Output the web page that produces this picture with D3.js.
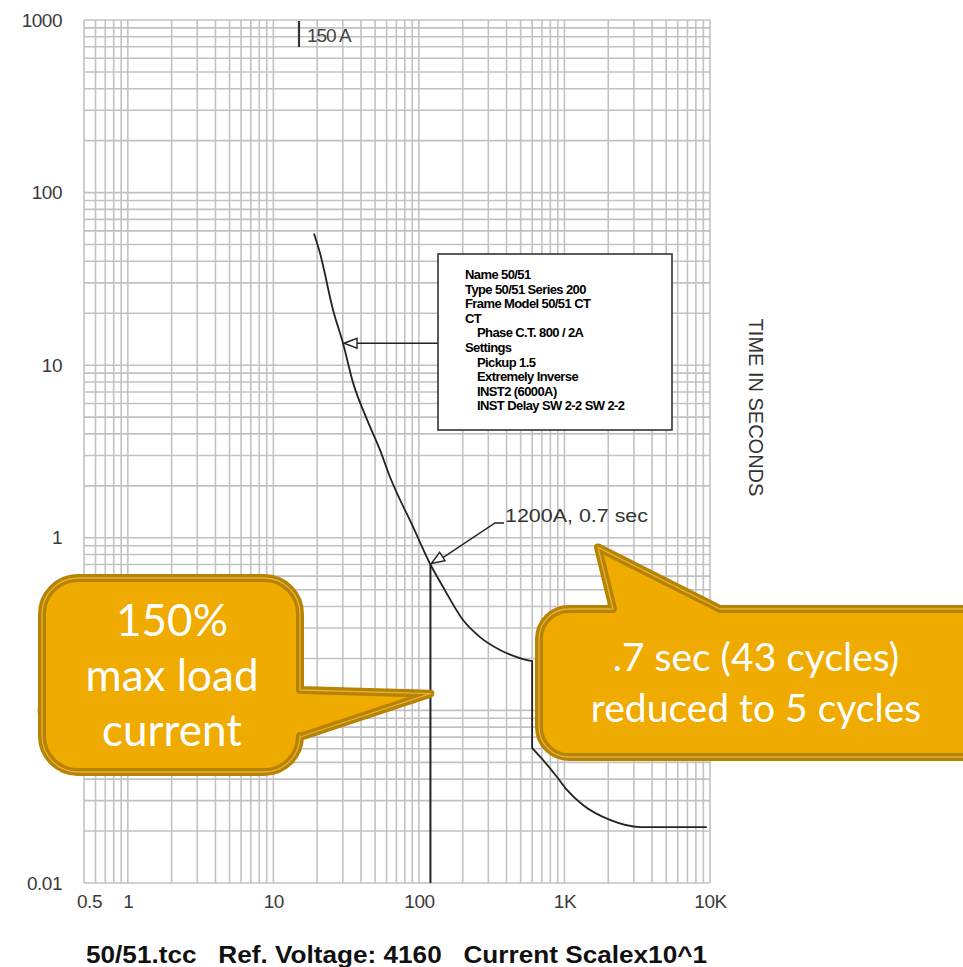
<!DOCTYPE html>
<html>
<head>
<meta charset="utf-8">
<script src="https://cdn.jsdelivr.net/npm/d3@7"></script>
<style>
  html, body { margin: 0; padding: 0; background: #fff; }
  svg { display: block; }
</style>
</head>
<body>
<svg id="chart" width="963" height="967"></svg>
<script>
// Time-current curve of the 50/51 relay (current axis scaled x10)
const currentA = [19, 20.9, 25.7, 30.1, 35.3, 43.3, 54, 63.3, 91, 120, 146.5, 201, 263, 361, 495, 600, 600, 713, 889, 1040, 1340, 2055, 3300, 9500];
const timeSec  = [58, 44.7, 20.9, 13.4, 7.9, 5.0, 3.23, 2.25, 1.16, 0.7, 0.519, 0.334, 0.266, 0.224, 0.201, 0.193, 0.0605, 0.0516, 0.0411, 0.0346, 0.0283, 0.0232, 0.0211, 0.0211];

// Load current marker and labelled operating point
const loadCurrent = 120;
const loadTimeTop = 0.7;
const markerCurrent = 15;
const markerLabel = "150 A";
const pointLabel = "1200A, 0.7 sec";
const legendPointCurrent = 30.1;
const legendPointTime = 13.4;

// Axis ticks
const xTickValues = [0.5, 1, 10, 100, 1000, 10000];
const xTickLabels = ["0.5", "1", "10", "100", "1K", "10K"];
const yTickValues = [0.01, 0.1, 1, 10, 100, 1000];
const yTickLabels = ["0.01", "0.1", "1", "10", "100", "1000"];

// Device description lines (indent level, text)
const legendLines = [
  [0, "Name 50/51"],
  [0, "Type 50/51 Series 200"],
  [0, "Frame Model 50/51 CT"],
  [0, "CT"],
  [1, "Phase C.T. 800 / 2A"],
  [0, "Settings"],
  [1, "Pickup 1.5"],
  [1, "Extremely Inverse"],
  [1, "INST2 (6000A)"],
  [1, "INST Delay SW 2-2 SW 2-2"]
];

const leftCalloutLines = ["150%", "max load", "current"];
const rightCalloutLines = [".7 sec (43 cycles)", "reduced to 5 cycles"];
const leftCalloutTip = [120, 0.125];
const rightCalloutTip = [1700, 0.88];

const svg = d3.select("#chart");
const x = d3.scaleLog().domain([0.5, 10000]).range([84, 710]);
const y = d3.scaleLog().domain([0.01, 1000]).range([883, 20]);

// Log grid: 1..9 per decade
function logGrid(lo, hi) {
  const vals = [];
  for (let e = -3; e <= 4; e++) {
    for (let k = 1; k <= 9; k++) {
      const v = k * Math.pow(10, e);
      if (v >= lo * 0.9999 && v <= hi * 1.0001) vals.push(v);
    }
  }
  return vals;
}
const grid = svg.append("g").attr("stroke", "#c2c2c2").attr("stroke-width", 1.6);
grid.selectAll("line.v").data(logGrid(0.5, 10000)).join("line")
  .attr("class", "v")
  .attr("x1", d => x(d)).attr("x2", d => x(d))
  .attr("y1", y(1000)).attr("y2", y(0.01));
grid.selectAll("line.h").data(logGrid(0.01, 1000)).join("line")
  .attr("class", "h")
  .attr("y1", d => y(d)).attr("y2", d => y(d))
  .attr("x1", x(0.5)).attr("x2", x(10000));

// Axes
const fontAxis = "'Liberation Sans', Arial, sans-serif";
const yAxis = svg.append("g").attr("transform", `translate(${x(0.5)},0)`)
  .call(d3.axisLeft(y).tickValues(yTickValues)
    .tickFormat((d, i) => yTickLabels[i]).tickSize(0).tickPadding(22));
const xAxis = svg.append("g").attr("transform", `translate(0,${y(0.01)})`)
  .call(d3.axisBottom(x).tickValues(xTickValues)
    .tickFormat((d, i) => xTickLabels[i]).tickSize(0).tickPadding(12));
[yAxis, xAxis].forEach(a => {
  a.select(".domain").remove();
  a.selectAll("text").attr("font-family", fontAxis).attr("font-size", 19)
    .attr("fill", "#3a3a3a").attr("letter-spacing", -0.5);
});
xAxis.selectAll("text").attr("dx", (d, i) => i === 0 ? 5 : 0);

// Axis title (right side)
svg.append("text")
  .attr("transform", `translate(749,${(y(10) + y(1)) / 2 - 44}) rotate(90)`)
  .attr("text-anchor", "middle")
  .attr("font-family", fontAxis).attr("font-size", 20)
  .attr("fill", "#333")
  .text("TIME IN SECONDS");

// Footer
svg.append("text")
  .attr("x", 86).attr("y", 963)
  .attr("font-family", fontAxis).attr("font-size", 23).attr("font-weight", "bold")
  .attr("fill", "#111")
  .style("white-space", "pre")
  .attr("textLength", 621).attr("lengthAdjust", "spacingAndGlyphs")
  .text("50/51.tcc   Ref. Voltage: 4160   Current Scalex10^1");

// 150 A marker at top
svg.append("line")
  .attr("x1", x(markerCurrent)).attr("x2", x(markerCurrent))
  .attr("y1", y(1000) + 1).attr("y2", y(1000) + 27)
  .attr("stroke", "#333").attr("stroke-width", 2.2);
svg.append("text")
  .attr("x", x(markerCurrent) + 8).attr("y", 42)
  .attr("font-family", fontAxis).attr("font-size", 19).attr("fill", "#444")
  .attr("letter-spacing", -1)
  .text(markerLabel);

// Load current vertical line
svg.append("line")
  .attr("x1", x(loadCurrent)).attr("x2", x(loadCurrent))
  .attr("y1", y(loadTimeTop)).attr("y2", y(0.01))
  .attr("stroke", "#222").attr("stroke-width", 2);

// Relay curve: smooth runs, split where the instantaneous element drops vertically
const pts = currentA.map((c, i) => [x(c), y(timeSec[i])]);
const runs = [[pts[0]]];
for (let i = 1; i < pts.length; i++) {
  if (Math.abs(pts[i][0] - pts[i - 1][0]) < 0.01) runs.push([pts[i]]);
  else runs[runs.length - 1].push(pts[i]);
}
const smooth = d3.line().curve(d3.curveMonotoneX);
let curveD = "";
runs.forEach((r, i) => {
  const seg = smooth(r);
  curveD += i === 0 ? seg : "L" + seg.slice(1);
});
svg.append("path")
  .attr("d", curveD)
  .attr("fill", "none").attr("stroke", "#222").attr("stroke-width", 1.8)
  .attr("stroke-linejoin", "round");

// Small open arrowhead drawn at a point, pointing along angle (radians)
function arrowHead(px, py, ang) {
  const len = 13, half = 5;
  const ca = Math.cos(ang), sa = Math.sin(ang);
  const bx = px - ca * len, by = py - sa * len;
  const p1 = [bx - sa * half, by + ca * half];
  const p2 = [bx + sa * half, by - ca * half];
  svg.append("path")
    .attr("d", `M${px},${py}L${p1[0]},${p1[1]}L${p2[0]},${p2[1]}Z`)
    .attr("fill", "#fff").attr("stroke", "#222").attr("stroke-width", 1.4);
}

// Legend box and its leader
const lgX = 438, lgY = 254, lgW = 234, lgH = 176;
const lp = [x(legendPointCurrent), y(legendPointTime)];
svg.append("line")
  .attr("x1", lp[0] + 10).attr("x2", lgX).attr("y1", lp[1]).attr("y2", lp[1])
  .attr("stroke", "#222").attr("stroke-width", 1.6);
arrowHead(lp[0] + 1, lp[1], Math.PI);
svg.append("rect")
  .attr("x", lgX).attr("y", lgY).attr("width", lgW).attr("height", lgH)
  .attr("fill", "#fff").attr("stroke", "#333").attr("stroke-width", 1.6);
svg.append("g").selectAll("text").data(legendLines).join("text")
  .attr("x", d => lgX + 27 + d[0] * 12)
  .attr("y", (d, i) => lgY + 25 + i * 14.6)
  .attr("font-family", fontAxis).attr("font-size", 13).attr("font-weight", "bold")
  .attr("fill", "#000").attr("letter-spacing", -0.6)
  .text(d => d[1]);

// Operating point label with leader
const op = [x(loadCurrent), y(loadTimeTop)];
const elbow = [495, 523];
svg.append("path")
  .attr("d", `M${op[0] + 8},${op[1] - 4}L${elbow[0]},${elbow[1]}H${elbow[0] + 9}`)
  .attr("fill", "none").attr("stroke", "#222").attr("stroke-width", 1.5);
arrowHead(op[0] + 1, op[1] - 1, Math.atan2(op[1] - elbow[1], op[0] - elbow[0]));
svg.append("text")
  .attr("x", 505).attr("y", 522)
  .attr("font-family", fontAxis).attr("font-size", 19).attr("fill", "#333")
  .attr("textLength", 143).attr("lengthAdjust", "spacingAndGlyphs")
  .text(pointLabel);

// Callout shapes
function leftCalloutPath(x0, y0, x1, y1, r, tip, a0, a1) {
  return `M${x0 + r},${y0}H${x1 - r}A${r},${r} 0 0 1 ${x1},${y0 + r}` +
    `V${a0}L${tip[0]},${tip[1]}L${x1},${a1}` +
    `V${y1 - r}A${r},${r} 0 0 1 ${x1 - r},${y1}H${x0 + r}` +
    `A${r},${r} 0 0 1 ${x0},${y1 - r}V${y0 + r}A${r},${r} 0 0 1 ${x0 + r},${y0}Z`;
}
function topCalloutPath(x0, y0, x1, y1, r, tip, b0, b1) {
  return `M${x0 + r},${y0}H${b0}L${tip[0]},${tip[1]}L${b1},${y0}` +
    `H${x1 - r}A${r},${r} 0 0 1 ${x1},${y0 + r}` +
    `V${y1 - r}A${r},${r} 0 0 1 ${x1 - r},${y1}H${x0 + r}` +
    `A${r},${r} 0 0 1 ${x0},${y1 - r}V${y0 + r}A${r},${r} 0 0 1 ${x0 + r},${y0}Z`;
}
function drawCallout(d) {
  const g = svg.append("g");
  g.append("path").attr("d", d).attr("fill", "#efab00")
    .attr("stroke", "#b78300").attr("stroke-width", 8).attr("stroke-linejoin", "round");
  g.append("path").attr("d", d).attr("fill", "none")
    .attr("stroke", "#e2b042").attr("stroke-width", 1.3).attr("stroke-linejoin", "round");
  return g;
}

const fontCallout = "Lato, 'Open Sans', sans-serif";
const lt = [x(leftCalloutTip[0]), y(leftCalloutTip[1])];
const lg = drawCallout(leftCalloutPath(42, 578, 300, 772, 36, lt, 690, 737));
lg.selectAll("text").data(leftCalloutLines).join("text")
  .attr("x", 172).attr("y", (d, i) => 636 + i * 55)
  .attr("text-anchor", "middle")
  .attr("font-family", fontCallout).attr("font-size", 44)
  .attr("fill", "#fff")
  .text(d => d);

const rt = [x(rightCalloutTip[0]), y(rightCalloutTip[1])];
const rg = drawCallout(topCalloutPath(539, 609, 1000, 757, 30, rt, 613, 720));
rg.selectAll("text").data(rightCalloutLines).join("text")
  .attr("x", 756).attr("y", (d, i) => 671 + i * 51)
  .attr("text-anchor", "middle")
  .attr("font-family", fontCallout).attr("font-size", 39)
  .attr("fill", "#fff")
  .text(d => d);
</script>
</body>
</html>
